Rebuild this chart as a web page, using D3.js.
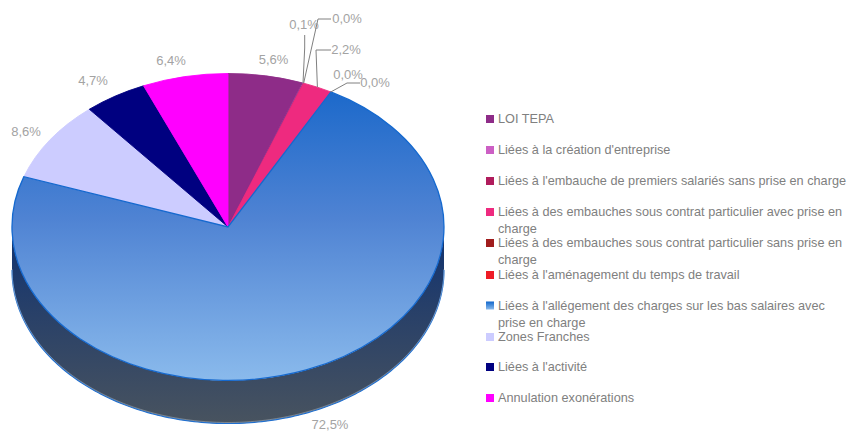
<!DOCTYPE html>
<html><head><meta charset="utf-8">
<script src="https://cdn.jsdelivr.net/npm/d3@7/dist/d3.min.js"></script>
<style>html,body{margin:0;background:#fff}svg{display:block}text{font-family:"Liberation Sans",Arial,sans-serif}</style>
</head><body><svg id="c" width="847" height="432"></svg>
<script>
const categories=["LOI TEPA","Liées à la création d'entreprise","Liées à l'embauche de premiers salariés sans prise en charge","Liées à des embauches sous contrat particulier avec prise en charge","Liées à des embauches sous contrat particulier sans prise en charge","Liées à l'aménagement du temps de travail","Liées à l'allégement des charges sur les bas salaires avec prise en charge","Zones Franches","Liées à l'activité","Annulation exonérations"];
const values=[5.6,0.1,0.0,2.2,0.0,0.0,72.5,8.6,4.7,6.4];
const colors=["#8e2c88","#cc5fc4","#b01c5c","#ee2a7f","#a01c1c","#ee1c25","url(#blue)","#ccccff","#000080","#ff00ff"];
const legendLines=[["LOI TEPA"],["Liées à la création d'entreprise"],["Liées à l'embauche de premiers salariés sans prise en charge"],["Liées à des embauches sous contrat particulier avec prise en","charge"],["Liées à des embauches sous contrat particulier sans prise en","charge"],["Liées à l'aménagement du temps de travail"],["Liées à l'allégement des charges sur les bas salaires avec","prise en charge"],["Zones Franches"],["Liées à l'activité"],["Annulation exonérations"]];

const W=847,H=432,cx=228,cy=227,rx=216,ry=153.5,depth=43;
const svg=d3.select("#c");
const defs=svg.append("defs");
const g2=defs.append("linearGradient").attr("id","side").attr("gradientUnits","userSpaceOnUse").attr("x1",0).attr("x2",0).attr("y1",235).attr("y2",423);
g2.append("stop").attr("offset",0).attr("stop-color","#12336f");
g2.append("stop").attr("offset",1).attr("stop-color","#48535f");
const g3=defs.append("linearGradient").attr("id","blueKey").attr("x1",0).attr("x2",0).attr("y1",0).attr("y2",1);
g3.append("stop").attr("offset",0).attr("stop-color","#0f66cc");
g3.append("stop").attr("offset",1).attr("stop-color","#8abaec");
const g4=defs.append("linearGradient").attr("id","blue").attr("gradientUnits","userSpaceOnUse").attr("x1",0).attr("x2",0).attr("y1",-0.92).attr("y2",1);
g4.append("stop").attr("offset",0).attr("stop-color","#1a68ca");
g4.append("stop").attr("offset",0.45).attr("stop-color","#4f83d3");
g4.append("stop").attr("offset",1).attr("stop-color","#8abaec");

const pie=d3.pie().sort(null).value(d=>d)(values);
const px=a=>cx+rx*Math.sin(a), py=a=>cy-ry*Math.cos(a);

// extruded rim of the big slice
const sideA=d3.range(Math.PI/2,3*Math.PI/2+.001,Math.PI/180);
const line=d3.line().x(d=>d[0]).y(d=>d[1]);
const rim=sideA.map(a=>[px(a),py(a)]).concat(sideA.slice().reverse().map(a=>[px(a),py(a)+depth]));
svg.append("path").attr("d",line(rim)+"Z").attr("fill","url(#side)");
const bottomEdge=sideA.map(a=>[px(a),py(a)+depth]);
svg.append("path").attr("d",line(bottomEdge)).attr("fill","none").attr("stroke","#1f6fd0").attr("stroke-width",1.2);
svg.append("path").attr("d",line(bottomEdge.map(d=>[d[0],d[1]-1]))).attr("fill","none").attr("stroke","#c8ccd2").attr("stroke-width",.6).attr("opacity",.7);

// top face: unit arcs scaled to the ellipse; the tiny slice is drawn first so its neighbours' edges cover it
const arc=d3.arc().innerRadius(0).outerRadius(1);
const face=svg.append("g").attr("transform",`translate(${cx},${cy}) scale(${rx},${ry})`);
const order=[1,2,4,5,0,3,7,8,9,6];
face.selectAll("path").data(order).join("path")
  .attr("d",i=>arc(pie[i]))
  .attr("fill",i=>colors[i])
  .attr("stroke",i=>i===6?"#1569cf":colors[i])
  .attr("stroke-width",i=>i===6?1.3:0.9).attr("vector-effect","non-scaling-stroke");

// data labels
const labelPos=[[273.5,64],[304,29],[347,23],[346,54],[348,79],[375,87],[330,429],[26,136],[93,85],[171,65]];
const fmt=v=>v.toFixed(1).replace(".",",")+"%";
const labels=svg.append("g").attr("font-size",13).attr("fill","#a3a3a3").attr("text-anchor","middle");
values.forEach((v,i)=>{const p=labelPos[i];labels.append("text").attr("x",p[0]).attr("y",p[1]).text(fmt(v));});

// leader lines, anchored on the slices' mid angles
const mid=i=>(pie[i].startAngle+pie[i].endAngle)/2;
const leaders=[[1,[[304.7,35],[304.7,48]]],[2,[[318,19],[331,19]]],[3,[[316,50],[331,50]]],[4,[[347,83],[360,83]]]];
svg.append("g").attr("fill","none").attr("stroke","#808080").attr("stroke-width",1)
 .selectAll("path").data(leaders).join("path")
 .attr("d",([i,pts])=>{const a=mid(i);return i===1?line([pts[0],pts[1],[px(a),py(a)]]):line([[px(a),py(a)]].concat(pts));});

// legend
const legY=[119,150,181,212,243,275,305.5,337,367,398];
const leg=svg.append("g");
categories.forEach((c,i)=>{
  leg.append("rect").attr("x",486).attr("y",legY[i]-4).attr("width",8).attr("height",8)
    .attr("fill",i===6?"url(#blueKey)":colors[i]);
  legendLines[i].forEach((t,k)=>leg.append("text").attr("x",498).attr("y",legY[i]+4+k*17).attr("font-size",12.7).attr("fill","#808080").text(t));
});
</script></body></html>
